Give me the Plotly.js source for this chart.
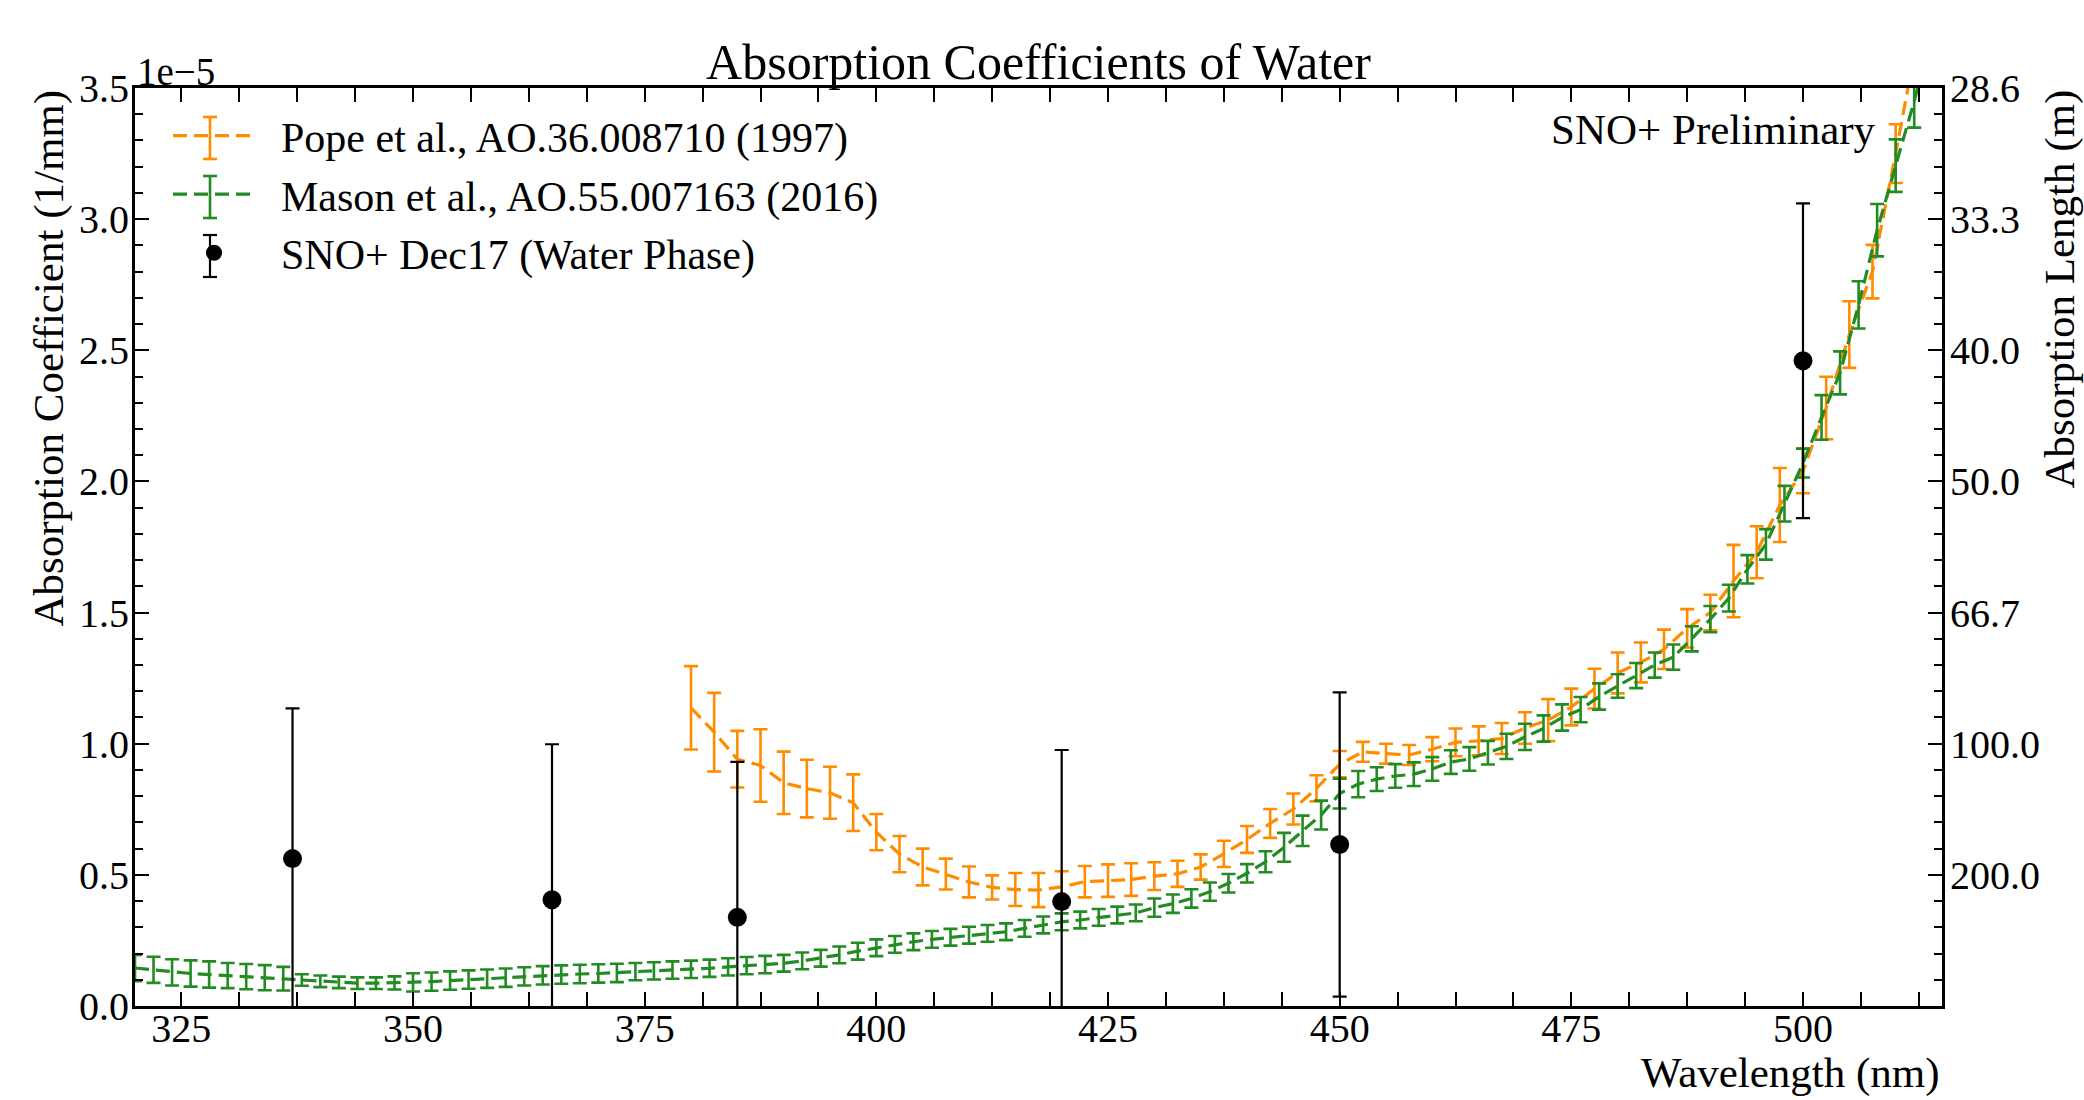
<!DOCTYPE html>
<html><head><meta charset="utf-8">
<script src="https://cdn.plot.ly/plotly-3.0.1.min.js"></script>
<style>html,body{margin:0;padding:0;background:#fff}#chart{width:2084px;height:1100px}</style>
</head><body><div id="chart"></div>
<script>
// Absorption coefficients in units of 1e-5 per mm
const popeWavelength = [380,382.5,385,387.5,390,392.5,395,397.5,400,402.5,405,407.5,410,412.5,415,417.5,420,422.5,425,427.5,430,432.5,435,437.5,440,442.5,445,447.5,450,452.5,455,457.5,460,462.5,465,467.5,470,472.5,475,477.5,480,482.5,485,487.5,490,492.5,495,497.5,500,502.5,505,507.5,510,512.5,515];
const popeCoef = [1.137,1.044,0.941,0.917,0.851,0.829,0.813,0.775,0.663,0.579,0.530,0.503,0.473,0.452,0.444,0.442,0.454,0.474,0.478,0.482,0.495,0.504,0.530,0.580,0.635,0.696,0.751,0.830,0.922,0.969,0.962,0.957,0.979,1.005,1.011,1.020,1.060,1.090,1.140,1.210,1.270,1.310,1.360,1.440,1.500,1.620,1.730,1.910,2.040,2.280,2.560,2.800,3.250,3.720,3.960];
const popeErr = [0.159,0.150,0.108,0.138,0.119,0.110,0.099,0.108,0.069,0.069,0.070,0.059,0.059,0.046,0.063,0.065,0.060,0.060,0.062,0.062,0.053,0.050,0.048,0.050,0.051,0.055,0.059,0.050,0.050,0.038,0.038,0.038,0.046,0.053,0.055,0.059,0.060,0.080,0.070,0.076,0.078,0.076,0.075,0.073,0.068,0.138,0.099,0.141,0.085,0.119,0.127,0.102,0.112,0.120,0.120];

const masonWavelength = [320,322,324,326,328,330,332,334,336,338,340,342,344,346,348,350,352,354,356,358,360,362,364,366,368,370,372,374,376,378,380,382,384,386,388,390,392,394,396,398,400,402,404,406,408,410,412,414,416,418,420,422,424,426,428,430,432,434,436,438,440,442,444,446,448,450,452,454,456,458,460,462,464,466,468,470,472,474,476,478,480,482,484,486,488,490,492,494,496,498,500,502,504,506,508,510,512,514];
const masonCoef = [0.145,0.138,0.128,0.124,0.120,0.116,0.112,0.108,0.104,0.099,0.094,0.090,0.087,0.087,0.088,0.090,0.093,0.097,0.101,0.104,0.108,0.113,0.117,0.120,0.122,0.124,0.126,0.131,0.134,0.137,0.140,0.144,0.149,0.154,0.158,0.163,0.172,0.182,0.195,0.209,0.222,0.235,0.245,0.254,0.262,0.270,0.277,0.283,0.296,0.309,0.321,0.328,0.338,0.347,0.355,0.375,0.390,0.410,0.436,0.468,0.506,0.550,0.605,0.668,0.728,0.810,0.846,0.865,0.877,0.884,0.904,0.930,0.942,0.966,0.990,1.026,1.058,1.100,1.130,1.180,1.220,1.260,1.300,1.330,1.400,1.475,1.555,1.665,1.760,1.915,2.070,2.244,2.414,2.673,2.958,3.204,3.449,3.720];
const masonErr = [0.050,0.050,0.050,0.050,0.050,0.048,0.048,0.048,0.045,0.022,0.022,0.022,0.022,0.022,0.025,0.035,0.035,0.035,0.035,0.035,0.035,0.035,0.035,0.035,0.035,0.035,0.035,0.033,0.033,0.033,0.033,0.033,0.033,0.033,0.033,0.032,0.032,0.032,0.032,0.032,0.032,0.032,0.032,0.032,0.032,0.032,0.032,0.032,0.032,0.032,0.032,0.032,0.032,0.032,0.032,0.035,0.035,0.035,0.035,0.035,0.035,0.040,0.055,0.058,0.055,0.057,0.050,0.045,0.045,0.045,0.045,0.045,0.045,0.045,0.048,0.050,0.050,0.050,0.048,0.050,0.045,0.048,0.048,0.048,0.048,0.050,0.051,0.054,0.058,0.068,0.055,0.085,0.082,0.090,0.100,0.100,0.100,0.100];

const snoWavelength = [337,365,385,420,450,500];
const snoCoef = [0.562,0.405,0.338,0.398,0.616,2.460];
const snoErr = [0.573,0.593,0.593,0.578,0.580,0.600];

const xTickVals = [325,350,375,400,425,450,475,500];
const yTickVals = [0,0.5,1.0,1.5,2.0,2.5,3.0,3.5];
const lengthTickVals = [0.5,1.0,1.5,2.0,2.5,3.0,3.5];
const lengthTickText = ['200.0','100.0','66.7','50.0','40.0','33.3','28.6'];

const FONT = 'Liberation Serif, Times New Roman, serif';
const ORANGE = '#ff8c00', GREEN = '#228b22';
const W = 2084, H = 1100, ML = 135, MR = 142, MT = 88, MB = 94;
const PW = W - ML - MR, PH = H - MT - MB;
const px = v => (v - ML) / PW;          // pixel x -> paper
const py = v => (H - MB - v) / PH;      // pixel y -> paper
const PAD = '\u00a0\u00a0';

const traces = [
  {x: popeWavelength, y: popeCoef, type: 'scatter', mode: 'lines', legendgroup: 'a',
   name: PAD + 'Pope et al., AO.36.008710 (1997)',
   line: {color: ORANGE, width: 3.2, dash: '14px,7px'},
   error_y: {type: 'data', array: popeErr, visible: true, color: ORANGE, thickness: 2.6, width: 7}},
  {x: masonWavelength, y: masonCoef, type: 'scatter', mode: 'lines', legendgroup: 'b',
   name: PAD + 'Mason et al., AO.55.007163 (2016)',
   line: {color: GREEN, width: 3.2, dash: '14px,7px'},
   error_y: {type: 'data', array: masonErr, visible: true, color: GREEN, thickness: 2.6, width: 7}},
  {x: snoWavelength, y: snoCoef, type: 'scatter', mode: 'markers', legendgroup: 'c', yaxis: 'y2',
   name: PAD + 'SNO+ Dec17 (Water Phase)',
   marker: {color: 'black', size: 19, symbol: 'circle'},
   error_y: {type: 'data', array: snoErr, visible: true, color: 'black', thickness: 2.2, width: 7}}
];

// legend error-bar glyphs (decoration matching the reference legend symbols)
const LGX = 210;
function legendBar(yc, half, color, w) {
  return [
    {type: 'line', xref: 'paper', yref: 'paper', x0: px(LGX), x1: px(LGX), y0: py(yc - half), y1: py(yc + half), line: {color: color, width: w}},
    {type: 'line', xref: 'paper', yref: 'paper', x0: px(LGX - 7), x1: px(LGX + 7), y0: py(yc - half), y1: py(yc - half), line: {color: color, width: w}},
    {type: 'line', xref: 'paper', yref: 'paper', x0: px(LGX - 7), x1: px(LGX + 7), y0: py(yc + half), y1: py(yc + half), line: {color: color, width: w}}
  ];
}
const shapes = [].concat(legendBar(138, 21, ORANGE, 2.6), legendBar(197, 21, GREEN, 2.6), legendBar(256, 21, 'black', 2.2));

const layout = {
  width: W, height: H,
  paper_bgcolor: 'white', plot_bgcolor: 'white',
  margin: {l: ML, r: MR, t: MT, b: MB, autoexpand: false},
  font: {family: FONT, color: 'black', size: 39},
  title: {text: 'Absorption Coefficients of Water', font: {family: FONT, size: 50, color: 'black'},
          x: 0.5, xref: 'paper', y: 1 - 61/1100, yref: 'container', yanchor: 'middle'},
  showlegend: true,
  legend: {x: px(168), y: 0.985, xanchor: 'left', yanchor: 'top', bgcolor: 'rgba(0,0,0,0)',
           font: {family: FONT, size: 42, color: 'black'}, itemwidth: 82, tracegroupgap: 1},
  xaxis: {range: [320, 515], tickmode: 'array', tickvals: xTickVals, ticks: 'inside', ticklen: 14, tickwidth: 2,
          tickcolor: 'black', showline: true, linewidth: 3, linecolor: 'black', mirror: 'allticks',
          showgrid: false, zeroline: false, ticklabelstandoff: -15, tickfont: {family: FONT, size: 40, color: 'black'},
          minor: {dtick: 6.25, tick0: 325, ticks: 'inside', ticklen: 8, tickwidth: 2, tickcolor: 'black', showgrid: false}},
  yaxis: {range: [0, 3.5], tickmode: 'array', tickvals: yTickVals, tickformat: '.1f', ticks: 'inside', ticklen: 14, tickwidth: 2,
          tickcolor: 'black', showline: true, linewidth: 3, linecolor: 'black', mirror: 'allticks',
          showgrid: false, zeroline: false, ticklabelstandoff: -5, tickfont: {family: FONT, size: 40, color: 'black'},
          minor: {dtick: 0.1, tick0: 0, ticks: 'inside', ticklen: 8, tickwidth: 2, tickcolor: 'black', showgrid: false}},
  yaxis2: {range: [0, 3.5], overlaying: 'y', anchor: 'x', side: 'right', tickmode: 'array', tickvals: lengthTickVals,
           ticktext: lengthTickText, ticks: '', showline: false, showgrid: false, zeroline: false, ticklabelstandoff: 7,
           tickfont: {family: FONT, size: 40, color: 'black'}},
  shapes: shapes,
  annotations: [
    {text: '1e\u22125', xref: 'paper', yref: 'paper', x: 0, y: 1, xanchor: 'left', yanchor: 'bottom',
     showarrow: false, font: {family: FONT, size: 39, color: 'black'}, yshift: -7},
    {text: 'SNO+ Preliminary', xref: 'paper', yref: 'paper', x: px(1878), y: py(129),
     xanchor: 'right', yanchor: 'middle', showarrow: false, font: {family: FONT, size: 43, color: 'black'}},
    {text: 'Wavelength (nm)', xref: 'paper', yref: 'paper', x: 1, y: 0, xanchor: 'right', yanchor: 'top',
     yshift: -41, showarrow: false, font: {family: FONT, size: 43, color: 'black'}},
    {text: 'Absorption Coefficient (1/mm)', xref: 'paper', yref: 'paper', x: 0, y: 1, xanchor: 'center', yanchor: 'top',
     xshift: -87, textangle: -90, showarrow: false, font: {family: FONT, size: 43, color: 'black'}},
    {text: 'Absorption Length (m)', xref: 'paper', yref: 'paper', x: 1, y: 1, xanchor: 'center', yanchor: 'top',
     xshift: 117, textangle: -90, showarrow: false, font: {family: FONT, size: 43, color: 'black'}}
  ]
};

Plotly.newPlot('chart', traces, layout, {staticPlot: true, displayModeBar: false});
</script>
</body></html>
